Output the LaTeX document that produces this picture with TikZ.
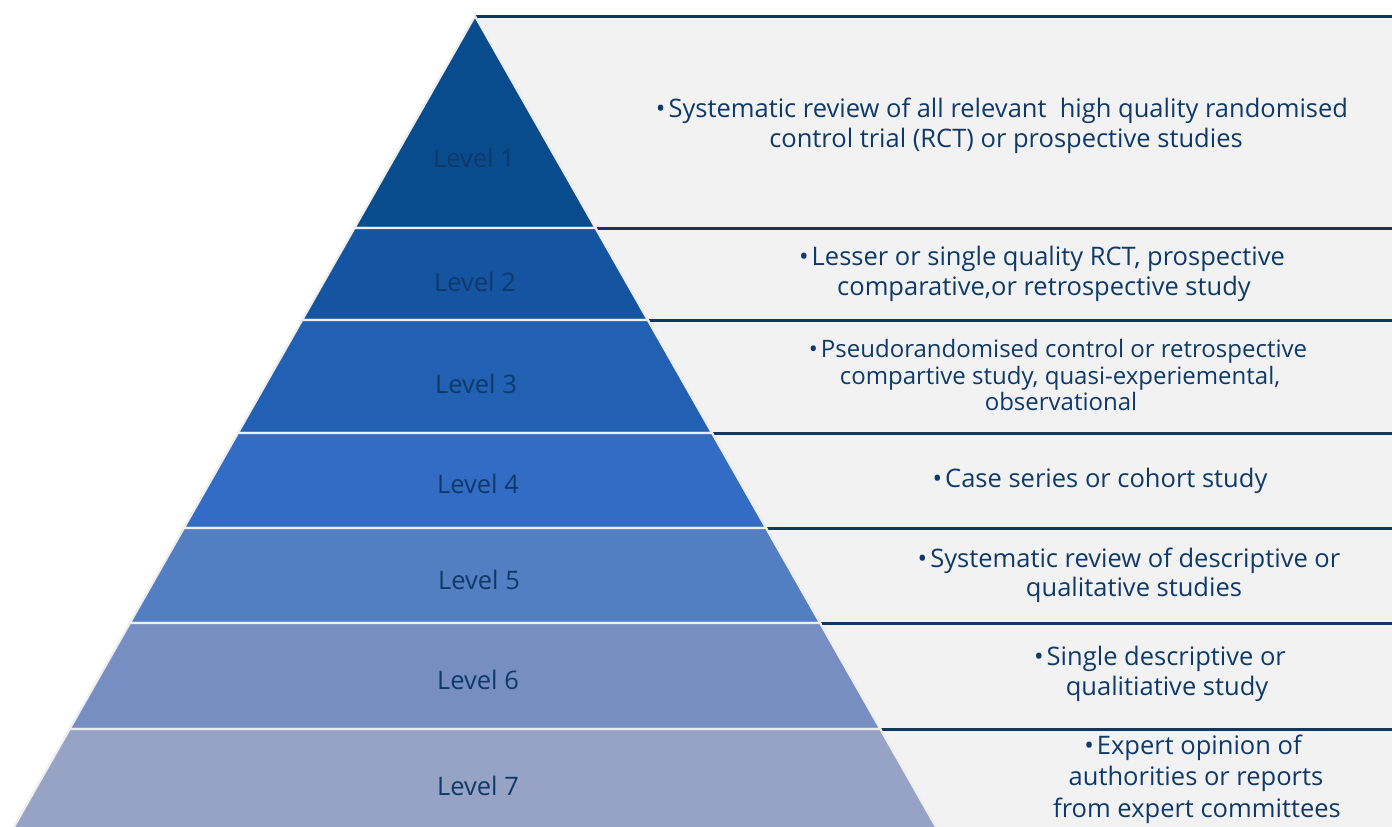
\documentclass[tikz,border=0pt]{standalone}
\usepackage{fontspec}
\setmainfont{Open Sans}
\definecolor{navy}{RGB}{14,57,105}
\definecolor{rulenavy}{RGB}{16,55,100}
\definecolor{panel}{RGB}{242,242,242}
\definecolor{edgegray}{RGB}{238,238,238}
\definecolor{lvA}{RGB}{8,76,142}
\definecolor{lvB}{RGB}{20,84,160}
\definecolor{lvC}{RGB}{33,96,178}
\definecolor{lvD}{RGB}{50,108,196}
\definecolor{lvE}{RGB}{84,126,194}
\definecolor{lvF}{RGB}{119,142,194}
\definecolor{lvG}{RGB}{150,163,196}
\begin{document}
\begin{tikzpicture}[x=1pt,y=-1pt,
  tier/.style={draw=edgegray,line width=2.2pt,line join=miter},
  tierrule/.style={draw=rulenavy,line width=3pt},
  lvl/.style={inner sep=0pt,text=navy,font=\fontsize{25.5}{30}\selectfont},
  desc/.style={inner sep=0pt,anchor=base,text=navy,font=\fontsize{25.5}{30}\selectfont},
  descsmall/.style={inner sep=0pt,anchor=base,text=navy,font=\fontsize{24}{29}\selectfont}]
% page frame
\path[fill=white] (0,0) rectangle (1392,827);
\useasboundingbox (0,0) rectangle (1392,827);
% grey description panel
\fill[panel] (475,16) rectangle (1392,827);
% navy rules above each description row
\foreach \i/\y in {1/16,2/228,3/320,4/433,5/528,6/623,7/729}{
  \coordinate (rs\i) at (476,\y);
  \coordinate (re\i) at (1392,\y);
  \draw[tierrule] (rs\i) -- (re\i);
}
% pyramid tiers (apex at 475,16; half-width grows 0.5685 per unit of height)
\foreach \i/\ya/\yb/\col in {1/16/228/lvA,2/228/320/lvB,3/320/433/lvC,4/433/528/lvD,5/528/623/lvE,6/623/729/lvF,7/729/834/lvG}{
  \pgfmathsetmacro{\ha}{0.5685*(\ya-16)}
  \pgfmathsetmacro{\hb}{0.5685*(\yb-16)}
  \coordinate (tl\i) at (475-\ha,\ya);
  \coordinate (tr\i) at (475+\ha,\ya);
  \coordinate (bl\i) at (475-\hb,\yb);
  \coordinate (br\i) at (475+\hb,\yb);
  \filldraw[tier,fill=\col] (tl\i) -- (tr\i) -- (br\i) -- (bl\i) -- cycle;
}
% tier labels
\node[lvl] (L1) at (474,158) {Level 1};
\node[lvl] (L2) at (475,282) {Level 2};
\node[lvl] (L3) at (476,384) {Level 3};
\node[lvl] (L4) at (478,484) {Level 4};
\node[lvl] (L5) at (479,580) {Level 5};
\node[lvl] (L6) at (478,680) {Level 6};
\node[lvl] (L7) at (478,786) {Level 7};
% descriptions
\node[desc] (d1a) at (1002,117) {•\hspace{3pt}Systematic review of all relevant\ \ high quality randomised};
\node[desc] (d1b) at (1006,147) {control trial (RCT) or prospective studies};
\node[desc] (d2a) at (1042,265) {•\hspace{3pt}Lesser or single quality RCT, prospective};
\node[desc] (d2b) at (1044,295) {comparative,or retrospective study};
\node[descsmall] (d3a) at (1058,357) {•\hspace{3pt}Pseudorandomised control or retrospective};
\node[descsmall] (d3b) at (1060,384) {compartive study, quasi-experiemental,};
\node[descsmall] (d3c) at (1061,410) {observational};
\node[desc] (d4a) at (1100,487) {•\hspace{3pt}Case series or cohort study};
\node[desc] (d5a) at (1129,567) {•\hspace{3pt}Systematic review of descriptive or};
\node[desc] (d5b) at (1134,596) {qualitative studies};
\node[desc] (d6a) at (1160,665) {•\hspace{3pt}Single descriptive or};
\node[desc] (d6b) at (1167,695) {qualitiative study};
\node[desc] (d7a) at (1193,754) {•\hspace{3pt}Expert opinion of};
\node[desc] (d7b) at (1196,785) {authorities or reports};
\node[desc] (d7c) at (1197,817) {from expert committees};
\end{tikzpicture}
\end{document}
